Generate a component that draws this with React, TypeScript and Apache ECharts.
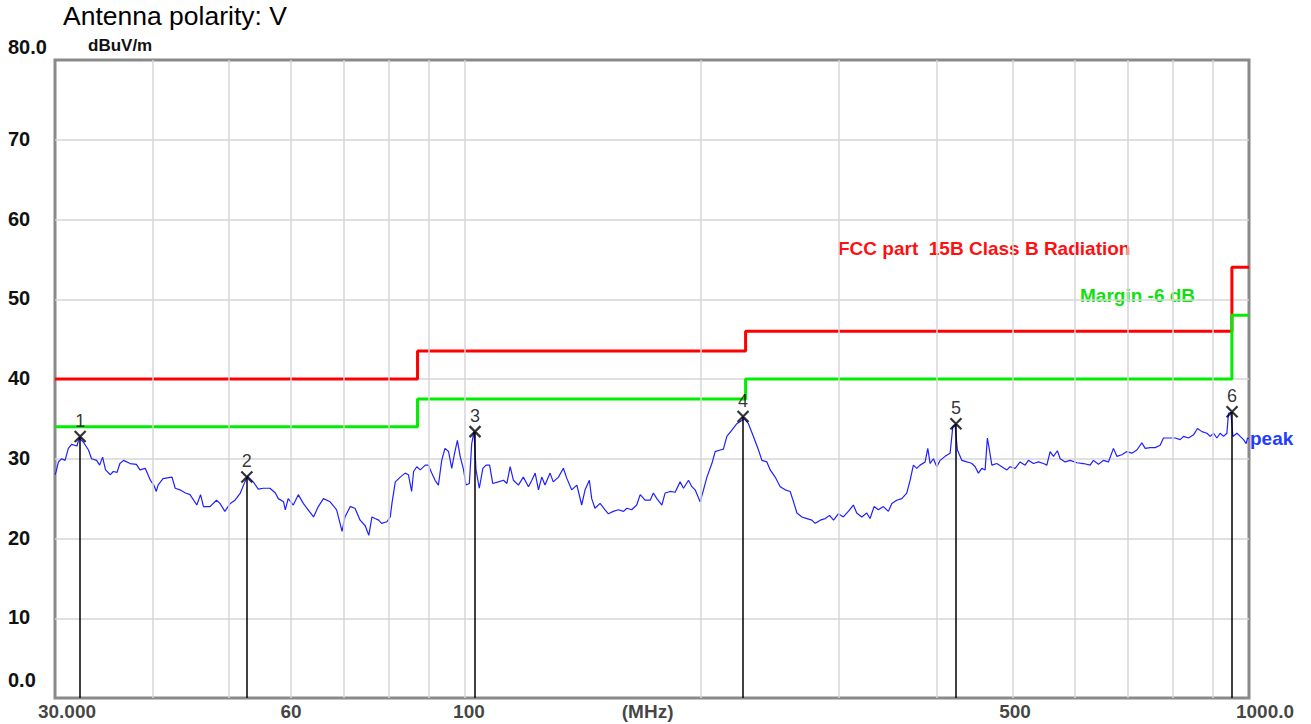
import React, { useEffect, useRef } from "react";
import * as echarts from "echarts";

// ---- data ----
const yTicks = [0, 10, 20, 30, 40, 50, 60, 70, 80];
const gridFreqs = [40, 50, 60, 70, 80, 90, 100, 200, 300, 400, 500, 600, 700, 800, 900];
const xLabelValues = [30, 60, 100, 171, 500, 1000];
const xLabelTexts = ["30.000", "60", "100", "(MHz)", "500", "1000.0"];

const limitEdges = [30, 87, 228, 951, 1000];
const fccLimit = [40, 43.5, 46, 54];
const marginLimit = [34, 37.5, 40, 48];

const markerFreq = [32.3, 52.7, 103.0, 226.3, 422.9, 951.5];
const markerLevel = [32.8, 27.7, 33.4, 35.3, 34.4, 35.9];
const markerNames = ["1", "2", "3", "4", "5", "6"];

const peakTrace: [number, number][] = [
  [30, 28.0], [30.1, 28.4], [30.3, 29.6], [30.6, 30.0], [30.9, 29.8], [31.2, 31.3], [31.5, 31.8],
  [32.0, 31.6], [32.2, 32.6], [32.6, 32.1], [33.1, 31.1], [33.4, 30.0], [33.9, 29.8], [34.2, 29.2],
  [34.5, 30.2], [34.8, 28.6], [35.3, 28.0], [35.6, 28.4], [36.0, 28.3], [36.3, 29.4], [36.7, 29.8],
  [37.4, 29.4], [38.1, 29.3], [38.5, 28.6], [39.1, 28.8], [39.7, 27.3], [40.1, 26.7], [40.4, 25.9],
  [40.6, 26.7], [41.2, 27.5], [42.3, 27.7], [42.7, 26.3], [43.3, 26.1], [44.0, 25.7], [44.6, 25.5],
  [45.5, 24.2], [46.0, 25.5], [46.4, 24.0], [47.3, 24.0], [48.2, 24.8], [48.7, 24.4], [49.4, 23.4],
  [50.2, 24.4], [50.9, 24.8], [51.7, 25.7], [52.4, 27.1], [52.8, 27.8], [53.7, 27.1], [54.5, 26.2],
  [55.3, 26.3], [56.4, 26.3], [57.3, 25.7], [57.8, 25.0], [58.7, 24.6], [59.0, 23.6], [59.5, 25.0],
  [60.4, 24.2], [61.3, 25.5], [62.2, 24.4], [63.1, 23.6], [64.1, 22.7], [65.0, 24.0], [66.0, 25.0],
  [67.3, 24.6], [68.6, 23.6], [69.7, 20.9], [70.3, 22.7], [71.4, 24.0], [72.4, 23.8], [73.5, 22.3],
  [74.6, 21.6], [75.4, 20.4], [76.1, 22.7], [76.8, 22.5], [77.6, 22.3], [78.3, 21.9], [79.5, 22.1],
  [80.3, 22.7], [80.7, 24.4], [81.5, 27.1], [82.7, 27.7], [83.9, 28.2], [84.7, 28.0], [85.5, 25.9],
  [86.0, 28.4], [86.8, 29.0], [87.7, 28.6], [89.0, 29.2], [89.8, 29.2], [90.7, 28.2], [91.6, 27.3],
  [92.5, 26.7], [93.4, 29.8], [94.3, 31.3], [95.3, 30.9], [96.2, 28.8], [96.9, 30.5], [97.8, 32.3],
  [98.6, 30.3], [99.6, 28.6], [100.3, 26.7], [101.3, 26.9], [102.0, 31.9], [102.7, 33.4], [103.3, 28.6],
  [104.3, 26.3], [105.4, 28.8], [106.4, 29.2], [107.5, 29.2], [108.5, 26.9], [110.3, 27.1], [112.0, 27.3],
  [113.1, 26.9], [114.2, 29.0], [115.3, 27.3], [117.0, 26.7], [118.7, 27.7], [120.5, 26.5], [121.7, 27.3],
  [122.9, 28.2], [124.1, 26.1], [125.3, 27.7], [126.5, 26.7], [128.4, 28.2], [129.6, 27.1], [131.6, 27.7],
  [133.5, 28.8], [134.8, 27.6], [136.8, 26.1], [138.9, 26.7], [140.9, 24.2], [142.3, 26.1], [144.1, 27.3],
  [145.1, 25.0], [146.5, 23.8], [148.7, 24.4], [150.9, 23.6], [152.4, 23.1], [154.6, 23.4], [156.9, 23.6],
  [159.3, 23.4], [160.9, 23.8], [163.2, 23.6], [165.6, 24.2], [167.3, 25.5], [169.7, 24.8], [172.3, 24.8],
  [173.9, 25.7], [175.7, 25.0], [178.3, 24.2], [180.0, 25.7], [182.7, 25.9], [185.4, 25.8], [188.1, 27.1],
  [190.0, 26.3], [192.8, 27.3], [194.7, 26.5], [196.6, 26.1], [199.5, 24.6], [201.5, 26.1], [203.5, 27.7],
  [206.5, 29.4], [208.5, 30.9], [211.6, 31.1], [213.6, 31.2], [215.8, 32.8], [219.0, 33.6], [222.2, 34.4],
  [225.5, 34.8], [227.1, 35.0], [229.9, 34.4], [233.3, 32.8], [236.8, 31.1], [239.2, 29.8], [242.7, 29.6],
  [245.1, 28.6], [248.7, 27.7], [252.4, 26.5], [256.1, 26.1], [259.9, 25.9], [262.5, 24.6], [265.1, 23.2],
  [269.0, 22.7], [273.0, 22.5], [277.0, 22.3], [279.7, 21.9], [283.9, 22.3], [288.1, 22.5], [291.7, 22.9],
  [295.2, 22.3], [299.4, 23.1], [303.8, 22.7], [308.3, 23.4], [312.9, 24.2], [316.0, 23.2], [320.7, 22.7],
  [325.4, 23.2], [328.6, 22.5], [332.5, 24.0], [336.7, 23.6], [341.7, 24.0], [346.8, 23.4], [350.3, 24.4],
  [355.4, 24.8], [360.7, 25.0], [366.0, 25.7], [369.6, 27.3], [373.2, 29.2], [377.0, 28.8], [380.6, 29.2],
  [386.3, 29.6], [389.3, 31.3], [392.0, 29.4], [395.8, 30.0], [399.8, 29.0], [403.7, 29.8], [409.6, 30.3],
  [415.7, 30.7], [419.0, 34.0], [421.8, 34.2], [424.7, 31.1], [430.2, 29.8], [436.6, 29.6], [440.9, 29.5],
  [443.1, 29.4], [447.4, 29.0], [451.7, 28.2], [456.3, 28.8], [460.7, 28.6], [463.8, 32.6], [466.6, 31.1],
  [469.9, 29.2], [476.8, 29.4], [483.9, 29.0], [491.0, 28.6], [495.8, 29.0], [503.2, 28.8], [510.6, 29.6],
  [518.1, 29.2], [523.2, 29.8], [531.0, 29.4], [538.8, 29.6], [546.8, 29.4], [552.3, 29.2], [557.6, 30.9],
  [563.1, 30.3], [569.7, 31.0], [574.3, 30.0], [582.8, 29.6], [591.4, 29.8], [603.2, 29.5], [615.0, 29.4],
  [627.2, 29.2], [633.3, 29.8], [642.7, 29.3], [652.2, 29.8], [661.8, 29.6], [671.6, 31.3], [678.3, 30.3],
  [688.4, 30.5], [698.6, 30.9], [708.9, 30.7], [719.4, 31.1], [730.0, 32.0], [737.2, 31.3], [748.1, 31.4],
  [759.1, 31.4], [770.4, 31.7], [777.9, 32.6], [789.4, 32.6], [805.1, 32.6], [817.0, 32.4], [825.0, 32.8],
  [837.2, 32.6], [849.6, 33.0], [859.6, 33.8], [870.8, 33.4], [883.7, 33.2], [892.3, 32.8], [901.0, 33.2],
  [910.0, 32.6], [918.9, 33.2], [927.8, 32.8], [937.1, 33.2], [941.5, 35.7], [948.2, 35.8], [953.8, 32.8],
  [965.1, 33.2], [974.5, 32.8], [984.0, 32.4], [991.8, 31.9], [995.6, 32.6], [1000, 32.5],
];

// ---- styles ----
const FONT = '"Liberation Sans", Arial, Helvetica, sans-serif';
const xLabelOffsets = [12, 0, 4, 0, 2, 16];

function stepLine(edges: number[], levels: number[]) {
  const pts: [number, number][] = [];
  for (let i = 0; i < levels.length; i++) {
    pts.push([edges[i], levels[i]]);
    pts.push([edges[i + 1], levels[i]]);
  }
  return pts;
}

export default function App() {
  const ref = useRef<HTMLDivElement>(null);
  useEffect(() => {
    if (!ref.current) return;
    const chart = echarts.init(ref.current, undefined, { renderer: "svg" });
    const option: any = {
      animation: false,
      backgroundColor: "#ffffff",
      grid: {
        left: 55,
        right: 62,
        top: 60,
        bottom: 26,
        show: true,
        borderColor: "#8a8a8a",
        borderWidth: 3,
        backgroundColor: "#ffffff",
      },
      xAxis: {
        type: "log",
        logBase: 10,
        min: 30,
        max: 1000,
        axisLabel: { show: false },
        axisTick: { show: false },
        axisLine: { show: false },
        splitLine: { show: false },
      },
      yAxis: {
        type: "value",
        min: yTicks[0],
        max: yTicks[yTicks.length - 1],
        interval: 10,
        axisLine: { show: false },
        axisTick: { show: false },
        splitLine: {
          show: true,
          showMinLine: false,
          showMaxLine: false,
          lineStyle: { color: "#d6d6d6", width: 1.5 },
        },
        axisLabel: {
          align: "left",
          margin: 47,
          color: "#111",
          fontFamily: FONT,
          fontWeight: "bold",
          fontSize: 20,
          formatter: (v: number) =>
            v === 80 ? "{t|80.0}" : v === 0 ? "{b|0.0}" : "{n|" + v + "}",
          rich: {
            t: { fontFamily: FONT, fontWeight: "bold", fontSize: 20, color: "#111", padding: [0, 0, 26, 0] },
            b: { fontFamily: FONT, fontWeight: "bold", fontSize: 20, color: "#111", padding: [0, 0, 36, 0] },
            n: { fontFamily: FONT, fontWeight: "bold", fontSize: 20, color: "#111", padding: [0, 0, 2, 0] },
          },
        },
      },
      series: [
        {
          type: "scatter",
          name: "axis",
          z: 1,
          silent: true,
          clip: false,
          symbolSize: 1,
          itemStyle: { color: "rgba(0,0,0,0)" },
          data: xLabelValues.map((v, i) => ({
            value: [v, 0],
            label: { offset: [xLabelOffsets[i], 0] },
          })),
          label: {
            show: true,
            position: "bottom",
            distance: 3,
            formatter: (p: any) => xLabelTexts[p.dataIndex],
            fontFamily: FONT,
            fontWeight: "bold",
            fontSize: 19,
            color: "#111",
          },
          markLine: {
            silent: true,
            symbol: ["none", "none"],
            label: { show: false },
            lineStyle: { color: "#d6d6d6", width: 1.5, type: "solid" },
            emphasis: { disabled: true },
            data: gridFreqs.map((v) => ({ xAxis: v })),
          },
        },
        {
          type: "line",
          name: "FCC",
          z: 2,
          silent: true,
          symbol: "none",
          data: stepLine(limitEdges, fccLimit),
          lineStyle: { color: "#ff0000", width: 3 },
        },
        {
          type: "line",
          name: "Margin",
          z: 2,
          silent: true,
          symbol: "none",
          data: stepLine(limitEdges, marginLimit),
          lineStyle: { color: "#00ee00", width: 3 },
        },
        {
          type: "line",
          name: "peak",
          z: 4,
          silent: true,
          symbol: "none",
          data: peakTrace,
          lineStyle: { color: "#2020ff", width: 1.2 },
          endLabel: {
            show: true,
            formatter: "peak",
            distance: 1,
            color: "#1f3cff",
            fontFamily: FONT,
            fontWeight: "bold",
            fontSize: 19,
          },
        },
        {
          type: "scatter",
          name: "markers",
          z: 5,
          silent: true,
          symbol: "path://M0,0L10,10M10,0L0,10",
          symbolSize: 11,
          itemStyle: { color: "rgba(0,0,0,0)", borderColor: "#000", borderWidth: 2.2 },
          data: markerFreq.map((f, i) => [f, markerLevel[i]]),
          label: {
            show: true,
            position: "top",
            distance: 0,
            formatter: (p: any) => markerNames[p.dataIndex],
            fontFamily: FONT,
            fontSize: 18,
            color: "#000",
          },
          markLine: {
            silent: true,
            symbol: ["none", "none"],
            label: { show: false },
            emphasis: { disabled: true },
            lineStyle: { color: "#000", width: 1.5, type: "solid" },
            data: markerFreq.map((f, i) => [
              { coord: [f, 0] },
              { coord: [f, markerLevel[i]] },
            ]),
          },
        },
      ],
      graphic: [
        {
          type: "text",
          left: 63,
          top: 2,
          style: { text: "Antenna polarity: V", fill: "#000", font: `26.5px ${FONT}` },
        },
        {
          type: "text",
          x: 88,
          y: 45,
          style: {
            text: "dBuV/m",
            fill: "#111",
            font: `bold 17px ${FONT}`,
            textVerticalAlign: "middle",
          },
        },
        {
          type: "text",
          x: 838,
          y: 248,
          style: {
            text: "FCC part  15B Class B Radiation",
            fill: "#ff1010",
            font: `bold 19px ${FONT}`,
            textVerticalAlign: "middle",
          },
        },
        {
          type: "text",
          x: 1080,
          y: 295,
          style: {
            text: "Margin -6 dB",
            fill: "#10e010",
            font: `bold 19px ${FONT}`,
            textVerticalAlign: "middle",
          },
        },
      ],
    };
    chart.setOption(option);
    return () => chart.dispose();
  }, []);
  return (
    <div
      ref={ref}
      style={{ position: "fixed", left: 0, top: 0, width: 1311, height: 724, background: "#fff" }}
    />
  );
}
